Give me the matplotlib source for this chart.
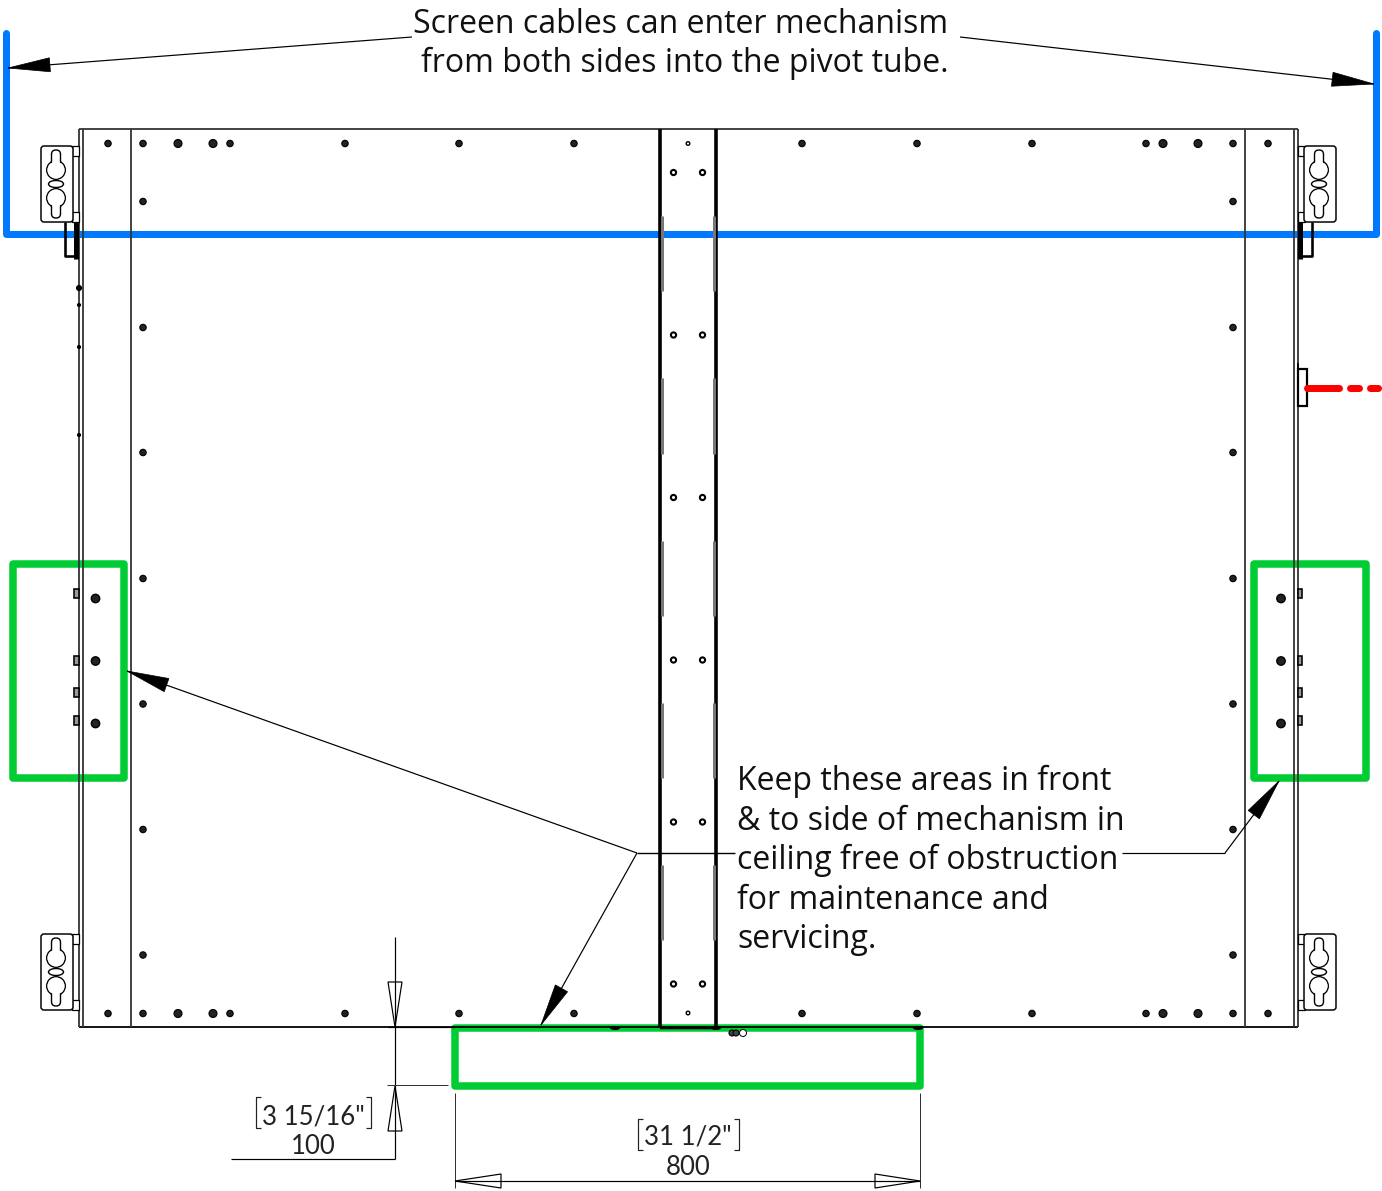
import matplotlib.pyplot as plt
from matplotlib.patches import Circle, Ellipse, FancyBboxPatch, Polygon, Rectangle

# everything is in reference pixels
W, H = 1382, 1191
PX = 0.72

frame_left = [79, 83, 131]
frame_right = [1245, 1294, 1298]
frame_top, frame_bottom = 129, 1027
tube_x = [660, 716]
tube_segments = [(216, 291), (378, 454), (541, 616), (703, 778), (865, 940)]

row_x = [108, 143, 178, 213, 230, 345, 459, 574, 802, 917, 1032, 1146, 1163, 1198, 1233, 1268]
big_x = [178, 213, 1163, 1198]
row_y = [143.5, 1013.5]
col_x = [143, 1233]
col_y = [201.5, 327.5, 452.5, 578.5, 704, 829.5, 955]
tube_hole_x = [673.5, 702.5]
tube_hole_y = [172.5, 335, 497.5, 660, 822, 984]
tube_small = [(688, 143.5), (688, 1013)]
side_hole_x = [95.5, 1281]
side_hole_y = [598.5, 661, 723.5]
clip_y = [593, 660, 692, 720]
bump_y = [288, 305, 347, 435]

bracket_x = [41, 1304]
bracket_y = [146, 934]

green_rects = [(13.5, 564, 124, 777.5), (1254.5, 564, 1366, 777.5), (455.5, 1028, 920.5, 1085.5)]
blue_x = [6.5, 6.5, 1376.5, 1376.5]
blue_y = [33, 233.5, 233.5, 33]
red_dashes = [(1307, 1339), (1350, 1359), (1370, 1378)]

GREEN = "#00cc33"
BLUE = "#0078ff"
RED = "#ff0000"

title_lines = ["Screen cables can enter mechanism", "from both sides into the pivot tube."]
title_x = [413, 421]
title_y = [33, 72]
note_lines = ["Keep these areas in front", "& to side of mechanism in",
              "ceiling free of obstruction", "for maintenance and", "servicing."]
note_y = [790, 830, 869, 909, 948]

dim_text = [('3 15/16"', 313, 1124), ("100", 313, 1154), ('31 1/2"', 688, 1145), ("800", 688, 1175)]
dim_brackets = [(256, 371, 1097, 1128), (638, 739, 1119, 1150)]

fig = plt.figure(figsize=(W / 100, H / 100), dpi=100)
ax = fig.add_axes([0, 0, 1, 1])
ax.set_xlim(0, W)
ax.set_ylim(H, 0)
ax.axis("off")


def line(xs, ys, lw=1.2, color="black", z=3, cap="butt"):
    ax.plot(xs, ys, color=color, lw=lw * PX, zorder=z, solid_capstyle=cap, solid_joinstyle="round")


def arrow(x0, y0, x1, y1, length=42, half=7):
    # filled head, tip at x1,y1
    d = ((x1 - x0) ** 2 + (y1 - y0) ** 2) ** 0.5
    ux, uy = (x1 - x0) / d, (y1 - y0) / d
    bx, by = x1 - ux * length, y1 - uy * length
    ax.add_patch(Polygon([(x1, y1), (bx - uy * half, by + ux * half), (bx + uy * half, by - ux * half)],
                         closed=True, fc="black", ec="black", lw=0.5, zorder=5))
    line([x0, x1], [y0, y1], 1.2, z=5)


def open_head(tip, base, half, vertical):
    if vertical:
        pts = [(395, tip), (395 - half, base), (395 + half, base)]
    else:
        pts = [(tip, 1181), (base, 1181 - half), (base, 1181 + half)]
    ax.add_patch(Polygon(pts, closed=True, fc="none", ec="black", lw=1.2 * PX, zorder=5))


def hole(x, y, r=3.2, fill="#222222", edge=0.8):
    ax.add_patch(Circle((x, y), r, fc=fill, ec="black", lw=edge, zorder=4))


def keyhole(cx, cy, up):
    # circle with a round ended slot, outline merged by white fills on top
    y0 = cy - 20 if up else cy
    ax.add_patch(Circle((cx, cy), 9.3, fc="white", ec="black", lw=1.4 * PX, zorder=4))
    ax.add_patch(FancyBboxPatch((cx - 4.5, y0), 9, 20, boxstyle="round,pad=0,rounding_size=4.4",
                                fc="white", ec="black", lw=1.4 * PX, zorder=4.1))
    ax.add_patch(Circle((cx, cy), 8.4, fc="white", ec="none", zorder=4.2))


def bracket(x, y):
    ax.add_patch(FancyBboxPatch((x, y), 32, 76, boxstyle="round,pad=0,rounding_size=3",
                                fc="white", ec="black", lw=1.5 * PX, zorder=4))
    cx = x + 15
    keyhole(cx, y + 24, True)
    keyhole(cx, y + 52, False)
    ax.add_patch(Ellipse((cx, y + 38), 15, 7, fc="white", ec="black", lw=1.4 * PX, zorder=4))


# coloured marks go under the drawing
for x0, y0, x1, y1 in green_rects:
    ax.add_patch(Rectangle((x0, y0), x1 - x0, y1 - y0, fc="none", ec=GREEN, lw=7.5 * PX,
                           joinstyle="round", zorder=2))
line(blue_x, blue_y, 7, BLUE, z=2, cap="round")
for x0, x1 in red_dashes:
    line([x0, x1], [387.5, 387.5], 7, RED, z=6, cap="round")

# outer frame
line([79, 1298], [frame_top, frame_top], 1.8, "#333333")
line([79, 1298], [frame_bottom, frame_bottom], 1.8)
for x in frame_left + frame_right:
    line([x, x], [frame_top, frame_bottom], 1.8, "#333333")

# pivot tube
for i, x in enumerate(tube_x):
    line([x, x], [frame_top, frame_bottom], 3.6)
    off = 2 if i == 0 else -2
    for y0, y1 in tube_segments:
        line([x + off, x + off], [y0, y1], 3, "#777777")
line([660, 716], [1028, 1028], 2.5)

# holes
for y in row_y:
    for x in row_x:
        hole(x, y, 4 if x in big_x else 3.2)
for x in col_x:
    for y in col_y:
        hole(x, y)
for x in tube_hole_x:
    for y in tube_hole_y:
        hole(x, y, 2.6, "white", 1.5)
for x, y in tube_small:
    hole(x, y, 1.8, "white", 1.0)
for x in side_hole_x:
    for y in side_hole_y:
        hole(x, y, 4.2, "#222222", 1.0)

# wall brackets and their tabs
for x in bracket_x:
    for y in bracket_y:
        bracket(x, y)
for y in bracket_y:
    for dy in (0, 66):
        ax.add_patch(Rectangle((72, y + dy), 7, 10, fc="white", ec="black", lw=0.9, zorder=3.5))
        ax.add_patch(Rectangle((1298, y + dy), 7, 10, fc="white", ec="black", lw=0.9, zorder=3.5))

# cable guides at the top corners
line([65, 65, 78], [222, 256, 256], 2.6)
line([1312, 1312, 1299], [222, 256, 256], 2.6)
line([76.5, 76.5], [218, 259], 5)
line([1300.5, 1300.5], [218, 259], 5)
ax.add_patch(Rectangle((1298, 369), 9, 37, fc="white", ec="black", lw=2.2 * PX, zorder=3))
line([1298, 1298], [363, 369], 1.8)

for y in clip_y:
    ax.add_patch(Rectangle((74.5, y - 4), 4.5, 9, fc="#999999", ec="black", lw=1.6 * PX, zorder=4))
    ax.add_patch(Rectangle((1298, y - 4), 4.5, 9, fc="#999999", ec="black", lw=1.6 * PX, zorder=4))
for y in bump_y:
    hole(79, y, 2.5 if y < 300 else 1.5, "black")

# small details on the bottom edge
for x in (732, 736):
    hole(x, 1033, 3, "#444444")
ax.add_patch(Circle((743, 1033), 3.5, fc="white", ec="black", lw=0.7, zorder=4))
for x in (615, 716, 918):
    ax.add_patch(Ellipse((x, 1028), 10, 4, fc="black", ec="none", zorder=4))

# leaders
arrow(412, 37, 8, 68)
arrow(960, 37, 1374, 84)
arrow(637, 853, 127, 671)
arrow(637, 853, 541, 1025)
arrow(1225, 853, 1279, 781)
line([637, 735], [853, 853], 1.4, z=5)
line([1122, 1225], [853, 853], 1.2, z=5)

# dimensions
line([395, 395], [937, 1159], 1.2, z=5)
line([231, 395], [1159, 1159], 1.2, z=5)
line([388, 455], [1027, 1027], 1.2, z=5)
line([387, 448], [1085, 1085], 1.0, "#333333", z=5)
line([455, 455], [1093, 1188], 1.0, "#333333", z=5)
line([920, 920], [1093, 1188], 1.0, "#333333", z=5)
line([455, 920], [1181, 1181], 1.2, z=5)
open_head(1027, 982, 7, True)
open_head(1086, 1131, 7, True)
open_head(455, 501, 7, False)
open_head(920, 875, 7, False)
for x0, x1, y0, y1 in dim_brackets:
    line([x0 + 5, x0, x0, x0 + 5], [y0, y0, y1, y1], 1.2, "#222222", z=7)
    line([x1 - 5, x1, x1, x1 - 5], [y0, y0, y1, y1], 1.2, "#222222", z=7)

# text
for s, x, y in zip(title_lines, title_x, title_y):
    ax.text(x, y, s, family="Open Sans", fontsize=23, va="baseline", ha="left", color="#111111", zorder=7)
for s, y in zip(note_lines, note_y):
    ax.text(737, y, s, family="Open Sans", fontsize=23, va="baseline", ha="left", color="#111111", zorder=7,
            bbox=dict(fc="white", ec="none", pad=0.5))
for s, x, y in dim_text:
    ax.text(x, y, s, family="Lato", fontsize=18.5, va="baseline", ha="center", color="#222222", zorder=7)

fig.savefig("out.png", dpi=100)
